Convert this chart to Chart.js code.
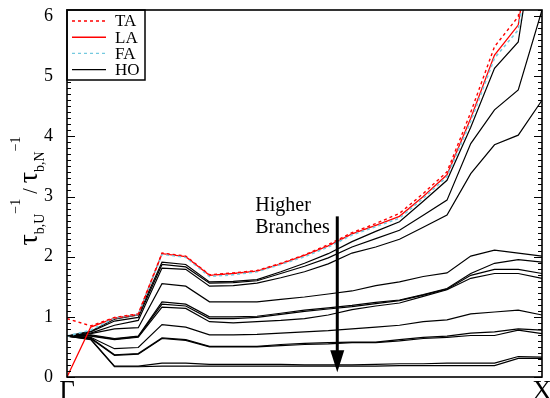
<!DOCTYPE html>
<html>
<head>
<meta charset="utf-8">
<script src="https://cdn.jsdelivr.net/npm/chart.js@4.4.1/dist/chart.umd.min.js"></script>
<style>
  body { margin: 0; background: #fff; }
</style>
</head>
<body>
<canvas id="myChart" width="550" height="398"></canvas>
<script>
/* path Γ -> X, 21 q-points */
var kLabels = ['Γ', '', '', '', '', '', '', '', '', '', '', '', '', '', '', '', '', '', '', '', 'X'];
var yTicks = [0, 1, 2, 3, 4, 5, 6];

var ta  = [0.97, 0.85, 0.99, 1.05, 2.06, 2.01, 1.70, 1.73, 1.77, 1.89, 2.03, 2.20, 2.40, 2.55, 2.72, 3.05, 3.41, 4.40, 5.49, 5.99, 8.6];
var la  = [0.00, 0.83, 0.98, 1.04, 2.05, 2.00, 1.69, 1.72, 1.76, 1.88, 2.02, 2.18, 2.38, 2.52, 2.67, 3.00, 3.36, 4.30, 5.35, 5.85, 8.4];
var fa  = [0.68, 0.78, 0.98, 1.04, 2.04, 1.99, 1.67, 1.70, 1.75, 1.87, 2.00, 2.16, 2.36, 2.50, 2.64, 2.97, 3.33, 4.25, 5.30, 5.77, 8.3];

/* HO branches */
var h1  = [0.68, 0.76, 0.96, 1.03, 1.91, 1.87, 1.58, 1.59, 1.62, 1.75, 1.89, 2.05, 2.25, 2.42, 2.58, 2.92, 3.27, 4.15, 5.13, 5.57, 8.1];
var h2  = [0.68, 0.75, 0.93, 0.99, 1.87, 1.83, 1.56, 1.57, 1.60, 1.72, 1.84, 1.98, 2.16, 2.30, 2.44, 2.69, 2.94, 3.88, 4.44, 4.77, 6.10];
var h3  = [0.68, 0.73, 0.86, 0.94, 1.81, 1.79, 1.51, 1.52, 1.56, 1.65, 1.75, 1.88, 2.06, 2.16, 2.29, 2.49, 2.69, 3.38, 3.86, 4.02, 4.60];
var m1  = [0.68, 0.72, 0.80, 0.82, 1.55, 1.51, 1.25, 1.25, 1.25, 1.29, 1.33, 1.38, 1.43, 1.52, 1.58, 1.67, 1.73, 2.01, 2.11, 2.06, 2.01];
var m2  = [0.68, 0.70, 0.64, 0.68, 1.25, 1.21, 1.00, 1.00, 1.01, 1.06, 1.11, 1.15, 1.19, 1.24, 1.28, 1.37, 1.47, 1.72, 1.89, 1.95, 1.91];
var m3  = [0.68, 0.69, 0.63, 0.67, 1.21, 1.18, 0.97, 0.97, 0.99, 1.04, 1.09, 1.13, 1.17, 1.22, 1.27, 1.36, 1.46, 1.69, 1.79, 1.79, 1.72];
var m4  = [0.68, 0.68, 0.62, 0.66, 1.16, 1.14, 0.92, 0.90, 0.92, 0.94, 0.97, 1.03, 1.12, 1.18, 1.23, 1.34, 1.45, 1.64, 1.72, 1.72, 1.64];
var l1  = [0.68, 0.66, 0.47, 0.49, 0.87, 0.83, 0.70, 0.70, 0.71, 0.73, 0.75, 0.77, 0.80, 0.83, 0.86, 0.92, 0.95, 1.05, 1.08, 1.11, 1.03];
var l2a = [0.68, 0.65, 0.37, 0.39, 0.65, 0.62, 0.51, 0.51, 0.51, 0.54, 0.56, 0.57, 0.58, 0.58, 0.62, 0.66, 0.68, 0.73, 0.75, 0.80, 0.78];
var l2b = [0.68, 0.64, 0.36, 0.38, 0.64, 0.61, 0.50, 0.50, 0.50, 0.52, 0.54, 0.55, 0.57, 0.57, 0.60, 0.64, 0.66, 0.69, 0.69, 0.78, 0.72];
var b1  = [0.68, 0.63, 0.18, 0.18, 0.23, 0.23, 0.21, 0.21, 0.21, 0.21, 0.20, 0.20, 0.20, 0.21, 0.22, 0.22, 0.23, 0.23, 0.23, 0.34, 0.33];
var b2  = [0.68, 0.62, 0.17, 0.17, 0.18, 0.18, 0.18, 0.18, 0.18, 0.18, 0.18, 0.18, 0.18, 0.18, 0.19, 0.19, 0.19, 0.19, 0.19, 0.31, 0.31];

var hoLines = [h1, h2, h3, m1, m2, m3, m4, l1, l2a, l2b, b1, b2];

var RED = '#ff0000';
var CYAN = '#74c9df';
var SERIF = "'Liberation Serif', 'Times New Roman', serif";

function line(label, data, color, width, dash) {
    return {
        label: label,
        data: data,
        borderColor: color,
        borderWidth: width,
        borderDash: dash || [],
        pointRadius: 0,
        tension: 0,
        fill: false
    };
}

var datasets = [
    line('TA', ta, RED, 1.4, [3, 3]),
    line('FA', fa, CYAN, 1.6, [3, 3]),
    line('LA', la, RED, 1.3)
];
hoLines.forEach(function (d) {
    datasets.push(line('HO', d, '#000', 1.2));
});

/* frame, inside ticks, legend, arrow, y title */
var decor = {
    id: 'decor',
    afterDraw: function (chart) {
        var c = chart.ctx, a = chart.chartArea;
        var xs = chart.scales.x, ys = chart.scales.y;
        c.save();

        // inward ticks, left and right
        c.strokeStyle = '#000';
        c.lineWidth = 1;
        for (var t = 0; t <= 61; t++) {
            var py = Math.round(ys.getPixelForValue(t / 10)) + 0.5;
            var len = (t % 10 === 0) ? 8 : 4;
            c.beginPath();
            c.moveTo(a.left, py); c.lineTo(a.left + len, py);
            c.moveTo(a.right, py); c.lineTo(a.right - len, py);
            c.stroke();
        }

        // legend
        var lx = a.left, ly = a.top, lw = 78, lh = 70;
        c.fillStyle = '#fff';
        c.fillRect(lx, ly, lw, lh);
        c.lineWidth = 1.5;
        c.strokeRect(lx, ly, lw, lh);
        var items = [
            ['TA', RED, [3, 3]],
            ['LA', RED, []],
            ['FA', CYAN, [3, 3]],
            ['HO', '#000', []]
        ];
        c.font = '17px ' + SERIF;
        c.textBaseline = 'middle';
        items.forEach(function (it, i) {
            var yy = ly + 11 + i * 16.2;
            c.beginPath();
            c.strokeStyle = it[1];
            c.lineWidth = 1.4;
            c.setLineDash(it[2]);
            c.moveTo(lx + 5, yy); c.lineTo(lx + 39, yy);
            c.stroke();
            c.setLineDash([]);
            c.fillStyle = '#000';
            c.fillText(it[0], lx + 48, yy + 1);
        });

        // Higher Branches arrow
        var ax = xs.getPixelForValue(11.38);
        var ay0 = ys.getPixelForValue(2.67);
        var ay1 = ys.getPixelForValue(0.08);
        c.strokeStyle = '#000';
        c.fillStyle = '#000';
        c.lineWidth = 3;
        c.beginPath();
        c.moveTo(ax, ay0); c.lineTo(ax, ay1 - 18);
        c.stroke();
        c.beginPath();
        c.moveTo(ax - 7, ay1 - 22);
        c.lineTo(ax + 7, ay1 - 22);
        c.lineTo(ax, ay1);
        c.closePath();
        c.fill();
        c.font = '20px ' + SERIF;
        c.textBaseline = 'alphabetic';
        c.textAlign = 'left';
        c.fillText('Higher', ax - 82, ay0 - 5);
        c.fillText('Branches', ax - 82, ay0 + 17);

        // y axis title, rotated
        c.translate(37, 0);
        c.rotate(-Math.PI / 2);
        var parts = [
            ['τ', '28px', 0],
            ['b,U', '14px', 7],
            ['−1', '14px', -17],
            [' / ', '20px', 0],
            ['τ', '28px', 0],
            ['b,N', '14px', 7],
            ['−1', '14px', -17]
        ];
        var total = 0;
        parts.forEach(function (p) {
            c.font = p[1] + ' ' + SERIF;
            p.push(c.measureText(p[0]).width);
            total += p[3];
        });
        var px = -191 - total / 2;
        parts.forEach(function (p) {
            c.font = p[1] + ' ' + SERIF;
            c.fillText(p[0], px, p[2]);
            px += p[3];
        });

        c.restore();

        // frame
        c.save();
        c.strokeStyle = '#000';
        c.lineWidth = 1.6;
        c.strokeRect(a.left, a.top, a.right - a.left, a.bottom - a.top);
        c.restore();
    }
};

var ctx = document.getElementById('myChart').getContext('2d');
var myChart = new Chart(ctx, {
    type: 'line',
    data: {
        labels: kLabels,
        datasets: datasets
    },
    options: {
        responsive: false,
        animation: false,
        layout: { padding: { left: 0, right: 8, top: 10, bottom: 0 } },
        plugins: {
            legend: { display: false },
            tooltip: { enabled: false }
        },
        scales: {
            x: {
                type: 'category',
                grid: { display: false },
                border: { display: false },
                ticks: {
                    autoSkip: false,
                    maxRotation: 0,
                    padding: -7,
                    color: '#000',
                    font: { family: SERIF, size: 27, lineHeight: 1 }
                },
                afterFit: function (s) {
                    s.height = 21;
                    s.paddingLeft = 0;
                    s.paddingRight = 0;
                }
            },
            y: {
                min: 0,
                max: 6.1,
                grid: { display: false },
                border: { display: false },
                ticks: {
                    padding: 6,
                    color: '#000',
                    font: { family: SERIF, size: 18 }
                },
                afterBuildTicks: function (s) {
                    s.ticks = yTicks.map(function (v) { return { value: v }; });
                },
                afterFit: function (s) {
                    s.width = 67;
                    s.paddingTop = 0;
                    s.paddingBottom = 0;
                }
            }
        }
    },
    plugins: [decor]
});
</script>
</body>
</html>
